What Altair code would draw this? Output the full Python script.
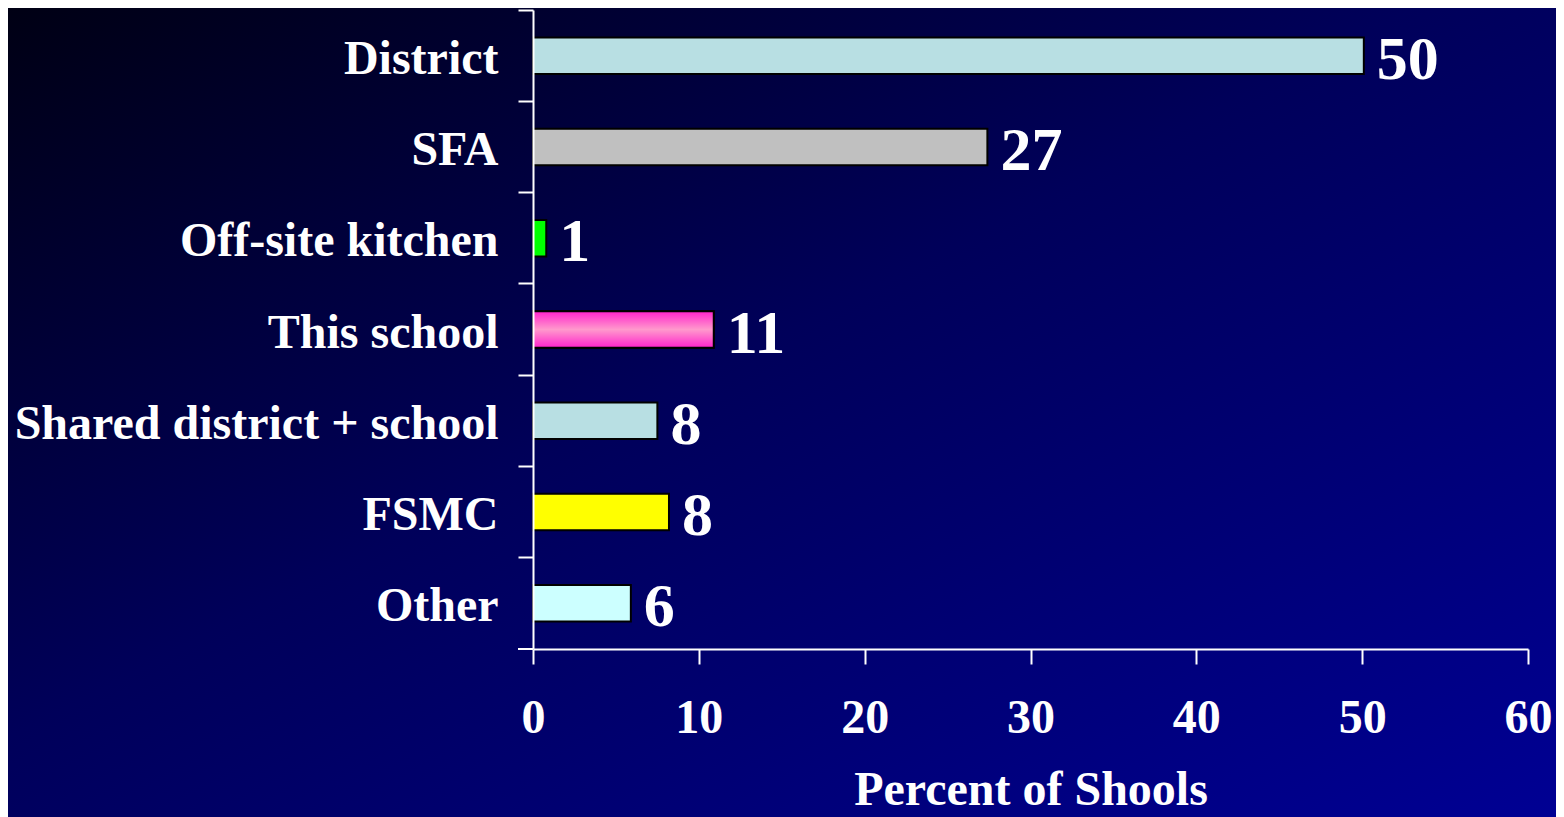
import altair as alt
import pandas as pd

categories = ["District", "SFA", "Off-site kitchen", "This school",
              "Shared district + school", "FSMC", "Other"]
values = [50.1, 27.4, 0.8, 10.9, 7.5, 8.2, 5.9]
labels = ["50", "27", "1", "11", "8", "8", "6"]
colors = ["#B8DFE3", "#C0C0C0", "#00FF00", "#FF66CC", "#B8DFE3", "#FFFF00", "#CCFFFF"]
x_ticks = [0, 10, 20, 30, 40, 50, 60]

df = pd.DataFrame({"category": categories, "value": values, "label": labels})

W, H = 995, 639
FONT = "Liberation Serif"

bg = alt.Chart(pd.DataFrame({"a": [0]})).mark_rect(
    fill=alt.LinearGradient(
        gradient="linear", x1=0, y1=0, x2=1, y2=1,
        stops=[alt.GradientStop(color="#000014", offset=0),
               alt.GradientStop(color="#00005A", offset=0.45),
               alt.GradientStop(color="#000094", offset=1)]),
    strokeWidth=0,
).encode(x=alt.value(-525), x2=alt.value(W + 40), y=alt.value(-2), y2=alt.value(H + 170))

y_enc = alt.Y("category:N", sort=categories,
              scale=alt.Scale(paddingInner=0, paddingOuter=0),
              axis=alt.Axis(title=None, bandPosition=0, labelFont=FONT, labelFontSize=48,
                            labelFontWeight="bold", labelColor="white", labelPadding=20,
                            tickSize=15, tickColor="white", tickWidth=2,
                            domainColor="white", domainWidth=2, labelBound=False,
                            labelLimit=0, labelOffset=4, zindex=2))
x_enc = alt.X("value:Q", scale=alt.Scale(domain=[0, 60], nice=False),
              axis=alt.Axis(title="Percent of Shools", values=x_ticks, grid=False,
                            labelFont=FONT, labelFontSize=48, labelFontWeight="bold",
                            labelColor="white", labelPadding=30, tickSize=15,
                            tickColor="white", tickWidth=2, domainColor="white",
                            domainWidth=2, titleFont=FONT, titleFontSize=48,
                            titleFontWeight="bold", titleColor="white", titlePadding=24,
                            labelFlush=False, zindex=2))

bars = alt.Chart(df).mark_bar(height={"band": 0.4}, stroke="black", strokeWidth=2).encode(
    x=x_enc, y=y_enc,
    color=alt.Color("category:N", scale=alt.Scale(domain=categories, range=colors), legend=None),
)

pink = alt.Chart(df).transform_filter(alt.datum.category == "This school").mark_bar(
    height={"band": 0.4}, stroke="black", strokeWidth=2,
    fill=alt.LinearGradient(
        gradient="linear", x1=0, y1=0, x2=0, y2=1,
        stops=[alt.GradientStop(color="#FF22CC", offset=0),
               alt.GradientStop(color="#FF99CC", offset=0.5),
               alt.GradientStop(color="#FF22CC", offset=1)]),
).encode(x="value:Q", y=alt.Y("category:N", sort=categories))

text = alt.Chart(df).mark_text(align="left", baseline="middle", dx=13, dy=4,
                               font=FONT, fontSize=62, fontWeight="bold",
                               color="white").encode(
    x="value:Q", y=alt.Y("category:N", sort=categories), text="label:N")

bottom_tick = alt.Chart(pd.DataFrame({"a": [0]})).mark_rule(color="white", strokeWidth=2).encode(
    x=alt.value(-15), x2=alt.value(0), y=alt.value(H))

chart = alt.layer(bg, bars, pink, text, bottom_tick).properties(
    width=W, height=H,
    autosize=alt.AutoSizeParams(type="none"),
    padding={"left": 525, "top": 2, "right": 28, "bottom": 168},
    background="#000014",
).configure_view(stroke=None)

chart.save("out.html", embed_options={"renderer": "svg", "actions": False})
